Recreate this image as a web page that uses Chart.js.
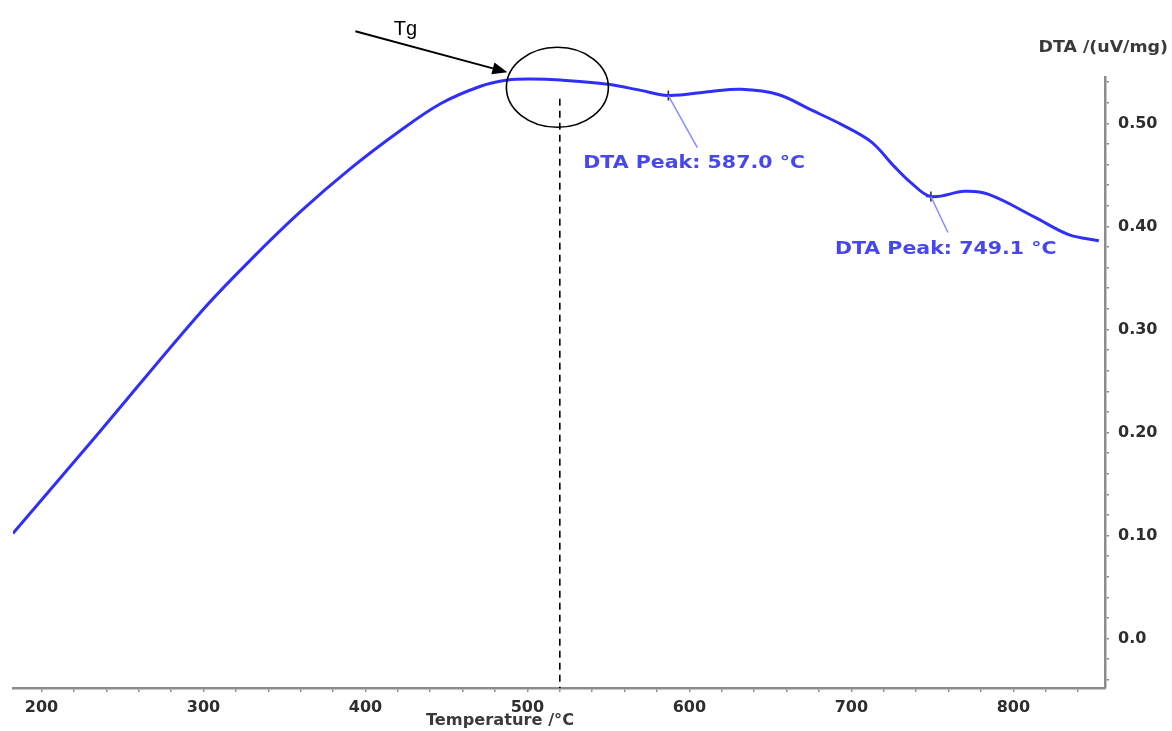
<!DOCTYPE html>
<html>
<head>
<meta charset="utf-8">
<title>DTA curve</title>
<script src="https://cdn.jsdelivr.net/npm/chart.js@4/dist/chart.umd.min.js"></script>
<style>
  html, body { margin: 0; padding: 0; background: #ffffff; }
  #wrap { width: 1172px; height: 731px; }
</style>
</head>
<body>
<div id="wrap"><canvas id="dta" width="1172" height="731"></canvas></div>
<script>
// DTA signal against furnace temperature
const temperature = [182.3, 236.1, 297.9, 328.8, 359.7, 390.7, 421.6, 446.3, 471.1, 487.8,
                     502.0, 520.5, 549.6, 570.0, 587.0, 613.3, 631.9, 654.8, 675.2, 693.8,
                     712.3, 726.6, 737.1, 749.1, 769.9, 784.8, 813.2, 834.2, 852.8];
const dta = [0.102, 0.201, 0.316, 0.367, 0.414, 0.456, 0.493, 0.519, 0.536, 0.542,
             0.543, 0.542, 0.538, 0.532, 0.527, 0.531, 0.533, 0.528, 0.513, 0.499,
             0.482, 0.458, 0.442, 0.429, 0.434, 0.431, 0.409, 0.392, 0.386];

// Evaluated peaks
const peakTemps = [587.0, 749.1];
const peakDta = [0.527, 0.429];

// Glass transition marker
const tgTemp = 520;
const tgLabel = 'Tg';

// Axis ticks
const xMajorTicks = [200, 300, 400, 500, 600, 700, 800];
const xMinorStep = 20;
const yMajorTicks = [0.0, 0.1, 0.2, 0.3, 0.4, 0.5];
const yMinorStep = 0.02;

const xTitle = 'Temperature /°C';
const yTitle = 'DTA /(uV/mg)';

const AXIS_GREY = '#8c8c8c';
const CURVE_BLUE = '#2f2ff7';
const LABEL_BLUE = '#4646f2';

function isMajor(list, v) {
  return list.some(m => Math.abs(m - v) < 1e-9);
}

// text drawn slightly widened, the way the instrument software renders it
function wideText(ctx, text, x, y, align, stretch) {
  ctx.save();
  ctx.textAlign = align;
  ctx.translate(x, y);
  ctx.scale(stretch, 1);
  ctx.fillText(text, 0, 0);
  ctx.restore();
}

const annotations = {
  id: 'dtaAnnotations',
  afterDatasetsDraw(chart) {
    const { ctx, chartArea, scales } = chart;
    const xs = scales.x, ys = scales.y;
    ctx.save();

    // dashed line down from the Tg region
    const dx = xs.getPixelForValue(tgTemp);
    ctx.strokeStyle = '#000';
    ctx.lineWidth = 1.6;
    ctx.setLineDash([7, 5]);
    ctx.beginPath();
    ctx.moveTo(dx, ys.getPixelForValue(0.524));
    ctx.lineTo(dx, chartArea.bottom);
    ctx.stroke();
    ctx.setLineDash([]);

    // ellipse round the onset
    const cx = xs.getPixelForValue(518.5);
    const cy = ys.getPixelForValue(0.535);
    const rx = 51, ry = 40;
    ctx.lineWidth = 1.6;
    ctx.beginPath();
    ctx.ellipse(cx, cy, rx, ry, 0, 0, Math.PI * 2);
    ctx.stroke();

    // arrow pointing at the ellipse
    const tipX = cx - rx + 1, tipY = cy - 15;
    const fromX = tipX - 152, fromY = tipY - 41;
    const ang = Math.atan2(tipY - fromY, tipX - fromX);
    const headLen = 15, headW = 6;
    ctx.lineWidth = 2;
    ctx.beginPath();
    ctx.moveTo(fromX, fromY);
    ctx.lineTo(tipX - headLen * Math.cos(ang), tipY - headLen * Math.sin(ang));
    ctx.stroke();
    ctx.fillStyle = '#000';
    ctx.beginPath();
    ctx.moveTo(tipX, tipY);
    ctx.lineTo(tipX - headLen * Math.cos(ang) + headW * Math.sin(ang),
               tipY - headLen * Math.sin(ang) - headW * Math.cos(ang));
    ctx.lineTo(tipX - headLen * Math.cos(ang) - headW * Math.sin(ang),
               tipY - headLen * Math.sin(ang) + headW * Math.cos(ang));
    ctx.closePath();
    ctx.fill();

    ctx.font = '20px "Liberation Sans", "Open Sans", sans-serif';
    ctx.textAlign = 'center';
    ctx.textBaseline = 'middle';
    ctx.fillText(tgLabel, fromX + 50, fromY - 2);

    // peak leader lines and labels
    const offsets = [
      { lx: 29, ly: 52, tx: -85, ty: 68 },
      { lx: 17, ly: 36, tx: -96, ty: 53 }
    ];
    ctx.font = 'bold 18px "DejaVu Sans", Verdana, sans-serif';
    ctx.textBaseline = 'middle';
    peakTemps.forEach((t, i) => {
      const px = xs.getPixelForValue(t);
      const py = ys.getPixelForValue(peakDta[i]);
      const o = offsets[i];
      ctx.strokeStyle = '#8a8aff';
      ctx.lineWidth = 1.5;
      ctx.beginPath();
      ctx.moveTo(px, py);
      ctx.lineTo(px + o.lx, py + o.ly);
      ctx.stroke();
      ctx.fillStyle = LABEL_BLUE;
      wideText(ctx, 'DTA Peak: ' + t.toFixed(1) + ' °C', px + o.tx, py + o.ty, 'left', 1.14);
    });

    // axis titles
    ctx.fillStyle = '#3a3a3a';
    ctx.font = 'bold 15px "DejaVu Sans", Verdana, sans-serif';
    ctx.textBaseline = 'middle';
    wideText(ctx, xTitle, 500, 721, 'center', 1.08);
    wideText(ctx, yTitle, 1168, 48, 'right', 1.16);

    ctx.restore();
  }
};

new Chart(document.getElementById('dta'), {
  type: 'line',
  data: {
    datasets: [
      {
        data: temperature.map((t, i) => ({ x: t, y: dta[i] })),
        borderColor: CURVE_BLUE,
        borderWidth: 3,
        pointRadius: 0,
        tension: 0.35,
        fill: false
      },
      {
        data: peakTemps.map((t, i) => ({ x: t, y: peakDta[i] })),
        showLine: false,
        pointStyle: 'cross',
        pointRadius: 5,
        pointBorderWidth: 1.6,
        pointBorderColor: '#333333',
        pointBackgroundColor: '#333333'
      }
    ]
  },
  options: {
    responsive: false,
    devicePixelRatio: 1,
    animation: false,
    layout: { padding: { left: 13, top: 77, right: 0, bottom: 0 } },
    plugins: { legend: { display: false }, tooltip: { enabled: false }, title: { display: false } },
    scales: {
      x: {
        type: 'linear',
        position: 'bottom',
        min: 182.4,
        max: 856.6,
        afterBuildTicks(scale) {
          const ticks = [];
          for (let v = xMajorTicks[0]; v <= 840; v += xMinorStep) ticks.push({ value: v });
          scale.ticks = ticks;
        },
        afterFit(scale) { scale.height = 43; },
        border: { display: true, color: AXIS_GREY, width: 2.5 },
        grid: { drawOnChartArea: false, drawTicks: true, tickLength: 4, color: AXIS_GREY, lineWidth: 1.5 },
        ticks: {
          autoSkip: false,
          maxRotation: 0,
          padding: 6,
          color: '#2e2e2e',
          font: { family: '"DejaVu Sans", Verdana, sans-serif', size: 16, weight: 'bold' },
          callback: v => (xMajorTicks.includes(v) ? String(v) : '')
        }
      },
      y: {
        type: 'linear',
        position: 'right',
        min: -0.048,
        max: 0.545,
        afterBuildTicks(scale) {
          const ticks = [];
          for (let i = -2; i <= 27; i++) ticks.push({ value: Math.round(i * yMinorStep * 100) / 100 });
          scale.ticks = ticks;
        },
        afterFit(scale) { scale.width = 67; },
        border: { display: true, color: AXIS_GREY, width: 2.5 },
        grid: { drawOnChartArea: false, drawTicks: true, tickLength: 4, color: AXIS_GREY, lineWidth: 1.5 },
        ticks: {
          autoSkip: false,
          padding: 9,
          color: '#2e2e2e',
          font: { family: '"DejaVu Sans", Verdana, sans-serif', size: 16, weight: 'bold' },
          callback: v => (isMajor(yMajorTicks, v) ? (v === 0 ? '0.0' : v.toFixed(2)) : '')
        }
      }
    }
  },
  plugins: [annotations]
});
</script>
</body>
</html>
